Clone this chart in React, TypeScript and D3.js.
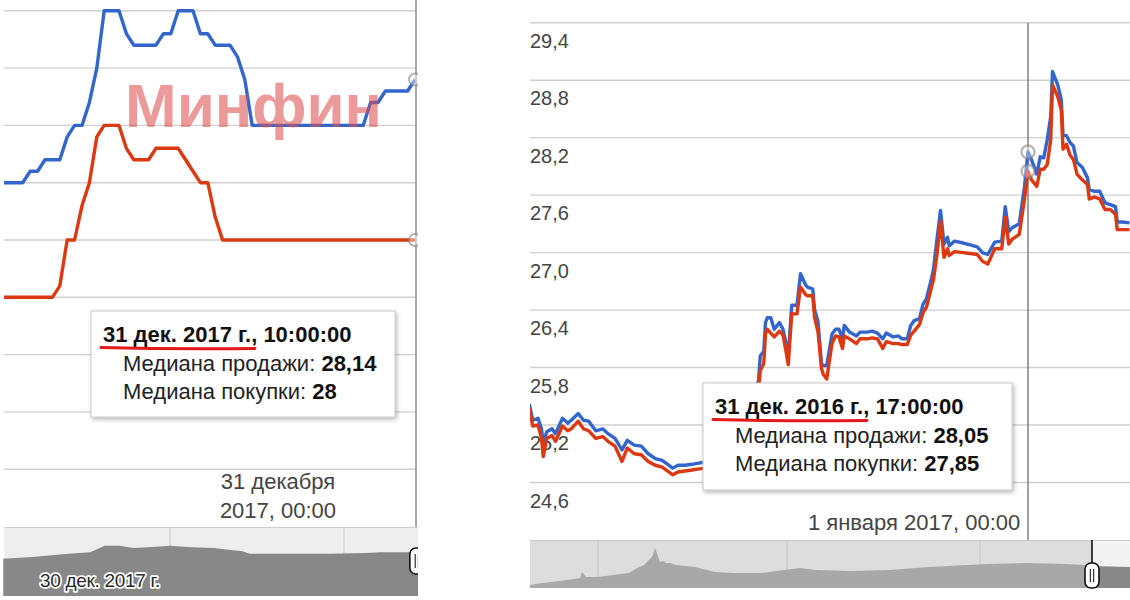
import React from 'react';
import * as d3 from 'd3';

const FONT = "'Liberation Sans', Arial, Helvetica, sans-serif";
const BLUE = '#3366cc';
const RED = '#dc3912';
const MONTHS_SHORT = ['янв.', 'февр.', 'мар.', 'апр.', 'мая', 'июн.', 'июл.', 'авг.', 'сент.', 'окт.', 'нояб.', 'дек.'];

// ---------------- Left chart: 30 Dec 2017 06:00 -> 31 Dec 2017 10:00, every 30 min
const leftStart = new Date(2017, 11, 30, 6, 0);
const leftEnd = new Date(2017, 11, 31, 10, 0);
const leftSale = [
  28.05, 28.05, 28.05, 28.05, 28.06, 28.06, 28.07, 28.07, 28.07, 28.09,
  28.10, 28.10, 28.12, 28.15, 28.20, 28.20, 28.20, 28.18, 28.17, 28.17,
  28.17, 28.17, 28.18, 28.18, 28.20, 28.20, 28.20, 28.18, 28.18, 28.17,
  28.17, 28.17, 28.16, 28.14, 28.10, 28.10, 28.10, 28.10, 28.10, 28.10,
  28.10, 28.10, 28.10, 28.10, 28.10, 28.10, 28.10, 28.10, 28.10, 28.10,
  28.12, 28.12, 28.13, 28.13, 28.13, 28.13, 28.14,
];
const leftBuy = [
  27.95, 27.95, 27.95, 27.95, 27.95, 27.95, 27.95, 27.95, 27.96, 28.00,
  28.00, 28.03, 28.05, 28.09, 28.10, 28.10, 28.10, 28.08, 28.07, 28.07,
  28.07, 28.08, 28.08, 28.08, 28.08, 28.07, 28.06, 28.05, 28.05, 28.02,
  28.00, 28.00, 28.00, 28.00, 28.00, 28.00, 28.00, 28.00, 28.00, 28.00,
  28.00, 28.00, 28.00, 28.00, 28.00, 28.00, 28.00, 28.00, 28.00, 28.00,
  28.00, 28.00, 28.00, 28.00, 28.00, 28.00, 28.00,
];
const leftGridValues = [27.8, 27.85, 27.9, 27.95, 28.0, 28.05, 28.1, 28.15, 28.2];
const leftTickDate = new Date(2017, 11, 31, 0, 0);
const leftTickLines = ['31 декабря', '2017, 00:00'];

// left navigator: hours from 30 Dec 2017 00:00
const navLeftStart = new Date(2017, 11, 30, 0, 0);
const navLeftHours = [1, 5, 10, 13, 15, 17, 19, 21, 24, 27, 30, 34, 35, 37, 46, 51, 53, 57, 59];
const navLeftValues = [28.06, 28.08, 28.12, 28.14, 28.22, 28.22, 28.19, 28.20, 28.22, 28.20, 28.19, 28.15, 28.12, 28.12, 28.12, 28.13, 28.14, 28.14, 28.14];
const navLeftTicks = [24, 48];
const navLeftHandleHour = 57.7;

// ---------------- Right chart: hours relative to 31 Dec 2016 17:00
const rightBase = new Date(2016, 11, 31, 17, 0);
const rightHours = [
  -285, -283, -280, -278, -277, -275, -272, -270, -266, -263,
  -261, -257, -254, -251, -247, -243, -240, -236, -232, -229,
  -225, -221, -217, -213, -209, -203, -200, -196, -192, -189,
  -179, -167, -158, -154, -153, -151, -150, -149, -147, -145,
  -142, -140, -138, -137, -135, -132, -130, -127, -126, -123,
  -122, -120, -118, -117, -115, -112, -110, -108, -106, -105,
  -102, -98, -96, -92, -89, -86, -83, -81, -77, -74,
  -72, -69, -67, -65, -62, -60, -58, -55, -54, -52,
  -50, -48, -46, -45, -42, -37, -33, -29, -26, -23,
  -19, -15, -13, -11, -9, -5, -2, 0, 2, 5,
  7, 9, 11, 13, 14, 17, 19, 20, 22, 24,
  26, 28, 31, 34, 35, 38, 41, 44, 47, 50,
  51, 54, 58,
];
const rightSale = [
  25.42, 25.25, 25.27, 25.16, 25.01, 25.13, 25.16, 25.11, 25.27, 25.22,
  25.25, 25.32, 25.25, 25.24, 25.14, 25.16, 25.11, 25.06, 24.94, 25.04,
  24.99, 24.98, 24.90, 24.85, 24.83, 24.75, 24.78, 24.78, 24.79, 24.80,
  24.83, 24.90, 25.48, 25.66, 25.92, 25.97, 26.27, 26.32, 26.32, 26.20,
  26.27, 26.20, 26.03, 25.92, 26.45, 26.45, 26.78, 26.66, 26.64, 26.62,
  26.41, 26.28, 25.84, 25.82, 25.82, 26.15, 26.20, 26.20, 26.10, 26.24,
  26.17, 26.13, 26.17, 26.17, 26.18, 26.16, 26.10, 26.16, 26.12, 26.13,
  26.10, 26.10, 26.24, 26.29, 26.31, 26.46, 26.52, 26.74, 26.83, 27.14,
  27.44, 27.09, 27.16, 27.07, 27.12, 27.10, 27.08, 27.06, 27.00, 26.98,
  27.11, 27.12, 27.48, 27.22, 27.26, 27.30, 27.69, 28.05, 27.97, 27.82,
  28.00, 27.99, 28.18, 28.42, 28.89, 28.75, 28.60, 28.23, 28.22, 28.15,
  28.11, 27.94, 27.89, 27.78, 27.66, 27.64, 27.64, 27.52, 27.50, 27.48,
  27.32, 27.32, 27.31,
];
const rightBuy = [
  25.37, 25.19, 25.20, 25.06, 24.87, 25.06, 25.09, 25.03, 25.19, 25.14,
  25.16, 25.24, 25.16, 25.14, 25.06, 25.08, 25.03, 24.98, 24.82, 24.96,
  24.90, 24.89, 24.82, 24.78, 24.76, 24.68, 24.71, 24.72, 24.73, 24.74,
  24.76, 24.83, 25.37, 25.56, 25.77, 25.84, 26.15, 26.20, 26.16, 26.12,
  26.18, 26.14, 25.94, 25.83, 26.36, 26.36, 26.64, 26.56, 26.55, 26.55,
  26.33, 26.17, 25.79, 25.73, 25.68, 26.05, 26.13, 26.12, 26.00, 26.13,
  26.10, 26.05, 26.10, 26.10, 26.11, 26.10, 26.00, 26.07, 26.05, 26.05,
  26.04, 26.04, 26.14, 26.18, 26.25, 26.37, 26.43, 26.65, 26.72, 26.98,
  27.33, 26.95, 27.04, 26.97, 27.01, 27.00, 26.99, 26.98, 26.91, 26.88,
  27.04, 27.04, 27.37, 27.09, 27.14, 27.19, 27.56, 27.85, 27.76, 27.69,
  27.87, 27.87, 27.92, 28.18, 28.75, 28.63, 28.49, 28.08, 28.13, 28.02,
  27.97, 27.82, 27.76, 27.71, 27.56, 27.58, 27.56, 27.45, 27.45, 27.40,
  27.24, 27.24, 27.24,
];
const rightGridValues = [24.6, 25.2, 25.8, 26.4, 27.0, 27.6, 28.2, 28.8, 29.4];
const rightTickDate = new Date(2017, 0, 1, 0, 0);
const rightTickLabel = '1 января 2017, 00:00';
const rightHoverHour = 0;

// right navigator: day index along the long history
const navRightDays = [0, 13, 29, 44, 50, 52, 56, 68, 83, 99, 107, 114, 120, 123, 125, 128, 130, 133, 136, 140, 146, 165, 185, 204, 231, 262, 270, 286, 321, 360, 399, 418, 457, 496, 535, 554, 562, 600];
const navRightValues = [8.0, 9.4, 10.7, 12.1, 12.8, 16.8, 13.4, 13.4, 14.8, 16.1, 19.5, 21.5, 25.6, 28.3, 33.0, 27.6, 23.6, 24.2, 22.9, 22.9, 21.5, 20.2, 16.8, 16.1, 16.1, 18.8, 19.5, 18.2, 17.5, 18.2, 20.2, 20.9, 22.2, 22.9, 22.2, 21.5, 20.9, 20.2];
const navRightTicks = [68, 257, 450];
const navRightSelStart = 562;

const watermark = 'Минфин';
const saleLabel = 'Медиана продажи: ';
const buyLabel = 'Медиана покупки: ';

const fmtNum = (v: number) => String(+v.toFixed(2)).replace('.', ',');
const fmtAxis = (v: number) => d3.format('.1f')(v).replace('.', ',');
const hourDate = (base: Date, h: number) => new Date(base.getTime() + h * 3600e3);

function Tooltip(props: { left: number; top: number; width: number; height: number; date: Date; sale: number; buy: number }) {
  const { left, top, width, height, date, sale, buy } = props;
  const t1 = `${date.getDate()} ${MONTHS_SHORT[date.getMonth()]} ${date.getFullYear()} г.`;
  const t2 = `, ${d3.timeFormat('%H:%M:%S')(date)}`;
  return (
    <g fontFamily={FONT}>
      <rect x={left} y={top} width={width} height={height} fill="#fff" stroke="#c8c8c8" strokeWidth={1} filter="url(#tipShadow)" />
      <text x={left + 12} y={top + 31} fontSize={22} fontWeight="bold" fill="#111">
        {t1}{t2}
      </text>
      <path d={`M${left + 10},${top + 36.5} Q${left + 86},${top + 38.5} ${left + 164},${top + 37.5}`} stroke="#e3191a" strokeWidth={3} fill="none" strokeLinecap="round" />
      <text x={left + 32} y={top + 60} fontSize={22} fill="#222">
        {saleLabel}<tspan fontWeight="bold" fill="#111">{fmtNum(sale)}</tspan>
      </text>
      <text x={left + 32} y={top + 88} fontSize={22} fill="#222">
        {buyLabel}<tspan fontWeight="bold" fill="#111">{fmtNum(buy)}</tspan>
      </text>
    </g>
  );
}

function Handle({ x, y, h }: { x: number; y: number; h: number }) {
  return (
    <g>
      <rect x={x - 7} y={y} width={14} height={h} rx={6} fill="#fff" stroke="#111" strokeWidth={1.6} />
      <line x1={x - 1.6} x2={x - 1.6} y1={y + 6} y2={y + h - 6} stroke="#333" strokeWidth={1.2} />
      <line x1={x + 1.6} x2={x + 1.6} y1={y + 6} y2={y + h - 6} stroke="#333" strokeWidth={1.2} />
    </g>
  );
}

function LeftPanel() {
  const times = leftSale.map((_, i) => new Date(leftStart.getTime() + i * 30 * 60000));
  const x = d3.scaleTime().domain([leftStart, leftEnd]).range([0.6, 415]);
  const y = d3.scaleLinear().domain([27.8, 28.2]).range([469.2, 10.8]);
  const line = d3.line<number>().x((_, i) => x(times[i])).y((d) => y(d));
  const last = leftSale.length - 1;

  const nx = d3.scaleLinear().domain([0, 58]).range([-4, 416.5]);
  const ny = d3.scaleLinear().domain([27.6, 28.45]).range([596, 527]);
  const navArea = d3.area<number>().x((_, i) => nx(navLeftHours[i])).y0(596).y1((d) => ny(d));

  const tickX = x(leftTickDate) + 11;

  return (
    <g clipPath="url(#clipLeft)">
      {leftGridValues.map((v) => (
        <line key={v} x1={4} x2={416} y1={y(v)} y2={y(v)} stroke="#cfcfcf" strokeWidth={1.4} />
      ))}
      <g clipPath="url(#clipLeftPlot)">
        <path d={line(leftSale) || ''} fill="none" stroke={BLUE} strokeWidth={3.4} strokeLinejoin="round" />
        <path d={line(leftBuy) || ''} fill="none" stroke={RED} strokeWidth={3.4} strokeLinejoin="round" />
      </g>
      <line x1={416} x2={416} y1={0} y2={527} stroke="#a0a0a0" strokeWidth={1.8} />
      <circle cx={x(times[last])} cy={y(leftSale[last])} r={6} fill="rgba(255,255,255,0.4)" stroke="rgba(130,130,130,0.6)" strokeWidth={2} />
      <circle cx={x(times[last])} cy={y(leftBuy[last])} r={6} fill="rgba(255,255,255,0.4)" stroke="rgba(130,130,130,0.6)" strokeWidth={2} />
      <text x={125} y={127} fontFamily={FONT} fontWeight="bold" fontSize={62} fill="#dd5050" fillOpacity={0.58}>
        {watermark}
      </text>
      <Tooltip left={91} top={311} width={304} height={106} date={times[last]} sale={leftSale[last]} buy={leftBuy[last]} />
      {leftTickLines.map((s, i) => (
        <text key={s} x={tickX} y={489 + i * 29} textAnchor="middle" fontFamily={FONT} fontSize={22} fill="#444">
          {s}
        </text>
      ))}
      {/* navigator */}
      <rect x={4} y={527} width={414} height={69} fill="#eeeeee" />
      <line x1={4} x2={418} y1={527.5} y2={527.5} stroke="#cfcfcf" strokeWidth={1} />
      {navLeftTicks.map((t) => (
        <line key={t} x1={nx(t)} x2={nx(t)} y1={527} y2={596} stroke="#c9c9c9" strokeWidth={1} />
      ))}
      <path d={navArea(navLeftValues) || ''} fill="#888" />
      <text x={nx(0) + 44} y={587} fontFamily={FONT} fontSize={19} fill="#2a2a2a" stroke="#fff" strokeWidth={3.5} strokeLinejoin="round" style={{ paintOrder: 'stroke' }} letterSpacing={-0.3}>
        {`${navLeftStart.getDate()} ${MONTHS_SHORT[navLeftStart.getMonth()]} ${navLeftStart.getFullYear()} г.`}
      </text>
      <Handle x={nx(navLeftHandleHour) + 2.5} y={548} h={26} />
    </g>
  );
}

function RightPanel() {
  const times = rightHours.map((h) => hourDate(rightBase, h));
  const x = d3.scaleTime().domain([hourDate(rightBase, -285), hourDate(rightBase, 58)]).range([529.25, 1129.5]);
  const y = d3.scaleLinear().domain([24.6, 29.4]).range([482.5, 22.7]);
  const line = d3.line<number>().x((_, i) => x(times[i])).y((d) => y(d));
  const hi = rightHours.indexOf(rightHoverHour);
  const hx = x(times[hi]);

  const nx = d3.scaleLinear().domain([0, 600]).range([530, 1130]);
  const ny = d3.scaleLinear().domain([6, 39]).range([588, 539.2]);
  const navArea = d3.area<number>().x((_, i) => nx(navRightDays[i])).y0(588).y1((d) => ny(d));
  const selX = nx(navRightSelStart);

  return (
    <g clipPath="url(#clipRight)">
      {rightGridValues.map((v) => (
        <line key={v} x1={530} x2={1130} y1={y(v)} y2={y(v)} stroke="#cfcfcf" strokeWidth={1.4} />
      ))}
      {rightGridValues.map((v) => (
        <text key={'l' + v} x={530} y={y(v) + 25} fontFamily={FONT} fontSize={20} fill="#444">
          {fmtAxis(v)}
        </text>
      ))}
      <line x1={hx} x2={hx} y1={y(29.4)} y2={540} stroke="#7a7a7a" strokeWidth={1.4} />
      <path d={line(rightSale) || ''} fill="none" stroke={BLUE} strokeWidth={3.4} strokeLinejoin="round" />
      <path d={line(rightBuy) || ''} fill="none" stroke={RED} strokeWidth={3.4} strokeLinejoin="round" />
      <circle cx={hx} cy={y(rightSale[hi])} r={6.5} fill="rgba(255,255,255,0.35)" stroke="rgba(130,130,130,0.55)" strokeWidth={2.5} />
      <circle cx={hx} cy={y(rightBuy[hi])} r={6.5} fill="rgba(255,255,255,0.35)" stroke="rgba(130,130,130,0.55)" strokeWidth={2.5} />
      <Tooltip left={703} top={383} width={309} height={107} date={times[hi]} sale={rightSale[hi]} buy={rightBuy[hi]} />
      <text x={x(rightTickDate) - 20} y={530} textAnchor="end" fontFamily={FONT} fontSize={22} fill="#444">
        {rightTickLabel}
      </text>
      {/* navigator */}
      <rect x={530} y={540} width={selX - 530} height={48} fill="#dddddd" />
      <rect x={selX} y={540} width={1130 - selX} height={48} fill="#f3f3f3" />
      <line x1={530} x2={1130} y1={540.5} y2={540.5} stroke="#c8c8c8" strokeWidth={1} />
      {navRightTicks.map((t) => (
        <line key={t} x1={nx(t)} x2={nx(t)} y1={540} y2={588} stroke="#c4c4c4" strokeWidth={1} />
      ))}
      <clipPath id="navUnsel"><rect x={530} y={530} width={selX - 530} height={70} /></clipPath>
      <clipPath id="navSel"><rect x={selX} y={530} width={1130 - selX} height={70} /></clipPath>
      <path d={navArea(navRightValues) || ''} fill="#a8a8a8" clipPath="url(#navUnsel)" />
      <path d={navArea(navRightValues) || ''} fill="#888" clipPath="url(#navSel)" />
      <line x1={selX} x2={selX} y1={540} y2={564} stroke="#111" strokeWidth={1.6} />
      <Handle x={selX} y={563} h={25} />
    </g>
  );
}

export default function App() {
  return (
    <svg width={1130} height={600} style={{ position: 'absolute', left: 0, top: 0, background: '#fff' }}>
      <defs>
        <clipPath id="clipLeft"><rect x={0} y={0} width={418} height={600} /></clipPath>
        <clipPath id="clipLeftPlot"><rect x={4} y={0} width={414} height={527} /></clipPath>
        <clipPath id="clipRight"><rect x={530} y={0} width={600} height={600} /></clipPath>
        <filter id="tipShadow" x="-10%" y="-10%" width="125%" height="140%">
          <feDropShadow dx={1.5} dy={2} stdDeviation={2} floodColor="#000" floodOpacity={0.28} />
        </filter>
      </defs>
      <rect x={0} y={0} width={1130} height={600} fill="#fff" />
      <LeftPanel />
      <RightPanel />
    </svg>
  );
}
